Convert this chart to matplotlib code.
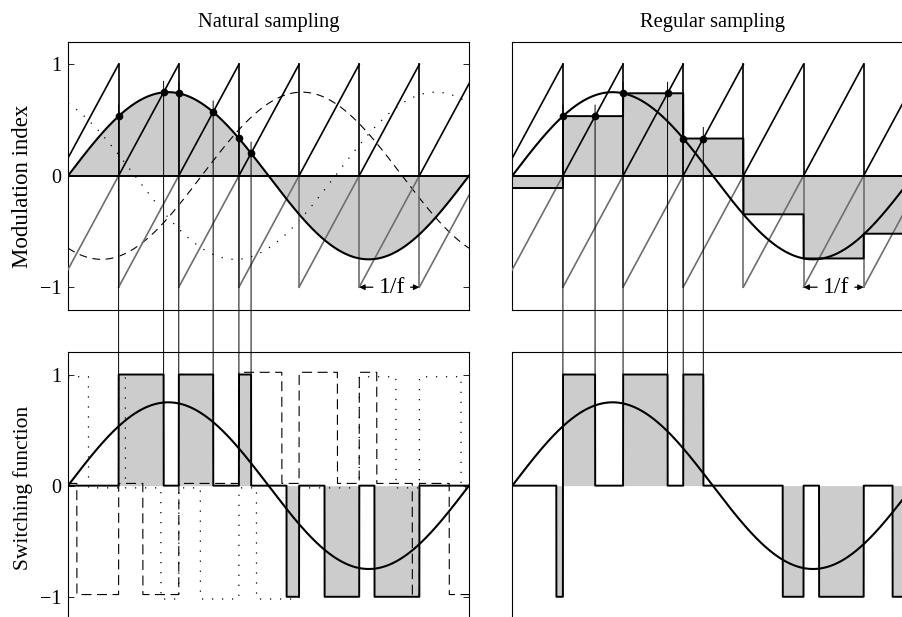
import numpy as np
import matplotlib
matplotlib.use('Agg')
import matplotlib.pyplot as plt
from matplotlib.patches import ConnectionPatch

plt.rcParams['font.family'] = ['Liberation Serif', 'DejaVu Serif']

# ---------------- values ----------------
# time axis: one period of the reference sinusoid (0 .. 1)
mod_index = 0.75                       # peak of the reference sinusoid
phase_deg = [0, -120, 120]             # phase a (solid), b (dashed), c (dotted)
carrier_resets = [-0.1738, -0.0238, 0.1262, 0.2762, 0.4262,
                  0.5762, 0.7262, 0.8762, 1.0262]      # sawtooth reset instants
regular_samples = [-0.11, 0.535, 0.74, 0.334, -0.346, -0.742, -0.52]  # held values
ytick_vals = [-1, 0, 1]
ytick_labels = ['\u22121', '0', '1']
titles = ['Natural sampling', 'Regular sampling']
ylabels = ['Modulation index', 'Switching function']
period_label = '1/f'
period_span = (carrier_resets[6], carrier_resets[7])

# ---------------- style ----------------
FILL = '#cccccc'
GRAY = '#6e6e6e'

W, H = 903, 617
fig = plt.figure(figsize=(W / 100, H / 100), dpi=100)

def px_axes(x0, y0, x1, y1):
    return fig.add_axes([x0 / W, 1 - y1 / H, (x1 - x0) / W, (y1 - y0) / H])

ax_tl = px_axes(68, 42, 469, 309.5)
ax_tr = px_axes(512.3, 42, 913.3, 309.5)
ax_bl = px_axes(68, 352.3, 469, 619)
ax_br = px_axes(512.3, 352.3, 913.3, 619)

t = np.linspace(0, 1, 40001)
resets = np.array(carrier_resets)
k = np.searchsorted(resets, t, side='right') - 1
ramp = (t - resets[k]) / (resets[k + 1] - resets[k])      # 0 -> 1 over each carrier period

refs = [mod_index * np.sin(2 * np.pi * t + np.deg2rad(p)) for p in phase_deg]
ra, rb, rc = refs
held = np.array(regular_samples)[k - 1]

def switching(ref):
    return (ref > ramp).astype(float) - (ref < ramp - 1).astype(float)

sa, sb, sc = switching(ra), switching(rb), switching(rc)
sa_reg = switching(held)

def draw_carrier(ax):
    for a, b in zip(resets[:-1], resets[1:]):
        ax.plot([a, b], [0, 1], color='k', lw=1.2, zorder=3)
        ax.plot([a, b], [-1, 0], color=GRAY, lw=1.2, zorder=3)
        ax.plot([b, b], [0, 1], color='k', lw=1.2, zorder=3)
        ax.plot([b, b], [-1, 0], color=GRAY, lw=1.2, zorder=3)

def period_mark(ax):
    a, b = period_span
    c = 0.5 * (a + b) + 0.006
    ax.text(c, -1.0, period_label, ha='center', va='center', fontsize=17, zorder=7)
    for xe, xs in ((a, c - 0.047), (b, c + 0.047)):
        ax.annotate('', xy=(xe, -1.0), xytext=(xs, -1.0),
                    arrowprops=dict(arrowstyle='-|>', color='k', lw=0.9,
                                    mutation_scale=8, shrinkA=0, shrinkB=0),
                    zorder=7)

DASH = (0, (7, 5))
DOT = (0, (1, 7))

# ---- top left: natural sampling ----
ax = ax_tl
ax.fill_between(t, 0, ra, color=FILL, lw=0, zorder=1)
ax.plot(t, rb, color='k', lw=0.8, linestyle=DASH, zorder=2)
ax.plot(t, rc, color='k', lw=0.9, linestyle=DOT, zorder=2)
draw_carrier(ax)
ax.axhline(0, color='k', lw=1.4, zorder=4)
ax.plot(t, ra, color='k', lw=1.5, zorder=5)
period_mark(ax)

# ---- top right: regular sampling ----
ax = ax_tr
ax.fill_between(t, 0, held, color=FILL, lw=0, zorder=1)
draw_carrier(ax)
ax.plot(t, held, color='k', lw=1.4, zorder=4)
ax.axhline(0, color='k', lw=1.4, zorder=4)
ax.plot(t, ra, color='k', lw=1.5, zorder=5)
period_mark(ax)

# ---- bottom left ----
ax = ax_bl
ax.fill_between(t, 0, sa, color=FILL, lw=0, zorder=1)
ax.plot(t, sb + 0.02, color='k', lw=0.8, linestyle=(0, (9, 5)), zorder=2)
ax.plot(t, sc - 0.02, color='k', lw=0.9, linestyle=DOT, zorder=2)
ax.plot(t, sa, color='k', lw=1.4, zorder=4)
ax.plot(t, ra, color='k', lw=1.5, zorder=5)

# ---- bottom right ----
ax = ax_br
ax.fill_between(t, 0, sa_reg, color=FILL, lw=0, zorder=1)
ax.plot(t, sa_reg, color='k', lw=1.4, zorder=4)
ax.plot(t, ra, color='k', lw=1.5, zorder=5)

# ---- intersection dots and connecting lines ----
def edges(s, val, ax_top, ax_bot):
    d = np.diff(s)
    for i in np.nonzero(d)[0]:
        if s[i + 1] == 1:
            j = i + 1
        elif s[i] == 1:
            j = i
        else:
            continue
        te, v = t[j], val[j]
        ax_top.plot([te], [v], 'o', color='k', ms=4.5, zorder=6)
        con = ConnectionPatch(xyA=(te, v + 0.1), coordsA=ax_top.transData,
                              xyB=(te, 1.0), coordsB=ax_bot.transData,
                              color='k', lw=0.7, zorder=10)
        fig.add_artist(con)

edges(sa, ra, ax_tl, ax_bl)
edges(sa_reg, held, ax_tr, ax_br)

for ax in (ax_tl, ax_tr, ax_bl, ax_br):
    ax.set_xlim(0, 1)
    ax.set_ylim(-1.2, 1.2)
    ax.set_xticks([])
    for s in ax.spines.values():
        s.set_linewidth(0.8)

for ax in (ax_tl, ax_bl):
    ax.set_yticks(ytick_vals)
    ax.set_yticklabels(ytick_labels)
    ax.tick_params(axis='y', direction='in', length=4, width=0.6,
                   left=True, right=True, labelsize=14.5, pad=4.5)
for ax in (ax_tr, ax_br):
    ax.set_yticks([])

fig.text(268.5 / W, 1 - 26.7 / H, titles[0], ha='center', va='baseline', fontsize=14.8)
fig.text(712.8 / W, 1 - 26.7 / H, titles[1], ha='center', va='baseline', fontsize=14.8)
fig.text(23 / W, 1 - 186 / H, ylabels[0], ha='center', va='center',
         rotation=90, fontsize=16.5)
fig.text(23 / W, 1 - 488 / H, ylabels[1], ha='center', va='center',
         rotation=90, fontsize=15.5)

fig.savefig('out.png', dpi=100)
